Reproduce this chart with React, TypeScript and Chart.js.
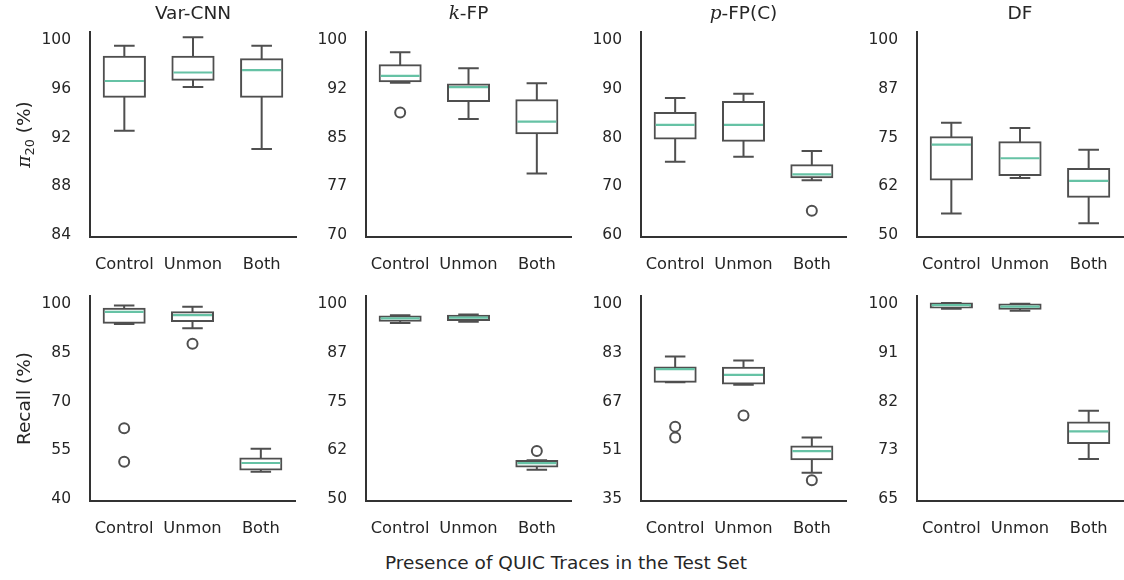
import React, { useEffect, useRef } from "react";
import { Chart, registerables } from "chart.js";

Chart.register(...registerables);

// ---------- data ----------
const categories = ["Control", "Unmon", "Both"];

// each box: [lowWhisker, q1, median, q3, highWhisker]
const varCnnPi20 = [
  [92.3, 95.1, 96.4, 98.4, 99.3],
  [95.9, 96.5, 97.1, 98.4, 100.0],
  [90.8, 95.1, 97.3, 98.2, 99.3],
];
const varCnnPi20Outliers: [number, number][] = [];
const varCnnPi20Ticks = [84, 88, 92, 96, 100];

const kfpPi20 = [
  [93.0, 93.2, 94.05, 95.7, 97.7],
  [87.4, 90.15, 92.3, 92.7, 95.2],
  [79.0, 85.2, 87.0, 90.3, 92.9],
];
const kfpPi20Outliers: [number, number][] = [[0, 88.4]];
const kfpPi20Ticks = [70, 77.5, 85, 92.5, 100];

const pfpPi20 = [
  [74.4, 79.2, 82.0, 84.4, 87.5],
  [75.4, 78.7, 82.0, 86.7, 88.4],
  [70.6, 71.2, 71.8, 73.7, 76.6],
];
const pfpPi20Outliers: [number, number][] = [[2, 64.3]];
const pfpPi20Ticks = [60, 70, 80, 90, 100];

const dfPi20 = [
  [54.7, 63.4, 72.4, 74.3, 78.0],
  [63.8, 64.6, 68.9, 73.0, 76.7],
  [52.2, 59.0, 63.1, 66.1, 71.1],
];
const dfPi20Outliers: [number, number][] = [];
const dfPi20Ticks = [50, 62.5, 75, 87.5, 100];

const varCnnRecall = [
  [93.0, 93.4, 96.75, 97.7, 98.7],
  [91.7, 93.9, 95.7, 96.6, 98.3],
  [47.4, 48.1, 50.1, 51.5, 54.5],
];
const varCnnRecallOutliers: [number, number][] = [[0, 60.85], [0, 50.5], [1, 86.9]];
const varCnnRecallTicks = [40, 55, 70, 85, 100];

const kfpRecall = [
  [94.4, 95.0, 95.6, 96.1, 96.4],
  [94.7, 95.2, 95.8, 96.3, 96.6],
  [56.7, 57.5, 58.4, 58.95, 59.1],
];
const kfpRecallOutliers: [number, number][] = [[2, 61.5]];
const kfpRecallTicks = [50, 62.5, 75, 87.5, 100];

const pfpRecall = [
  [72.9, 73.1, 77.3, 77.9, 81.5],
  [72.1, 72.5, 75.4, 77.75, 80.2],
  [42.7, 47.2, 49.9, 51.5, 54.5],
];
const pfpRecallOutliers: [number, number][] = [[0, 58.1], [0, 54.5], [1, 61.8], [2, 40.2]];
const pfpRecallTicks = [35, 51.25, 67.5, 83.75, 100];

const dfRecall = [
  [98.64, 98.87, 99.29, 99.58, 99.7],
  [98.28, 98.64, 99.05, 99.41, 99.53],
  [71.6, 74.5, 76.6, 78.2, 80.3],
];
const dfRecallOutliers: [number, number][] = [];
const dfRecallTicks = [65, 73.75, 82.5, 91.25, 100];

type Seg = { t: string; italic?: boolean; sub?: boolean };
const titles: Seg[][] = [
  [{ t: "Var-CNN" }],
  [{ t: "k", italic: true }, { t: "-FP" }],
  [{ t: "p", italic: true }, { t: "-FP(C)" }],
  [{ t: "DF" }],
];
const rowLabels: Seg[][] = [
  [{ t: "π", italic: true }, { t: "20", sub: true }, { t: " (%)" }],
  [{ t: "Recall (%)" }],
];
const xLabel = "Presence of QUIC Traces in the Test Set";

// ---------- styles / layout ----------
const EDGE = "#4f4f4f";
const MEDIAN = "#66c2a5";
const SPINE = "#333333";
const TEXT = "#262626";
const FONT = "DejaVu Sans";

const axisX = [90, 366, 641, 917];
const spineTop = [32, 296];
const plotW = 206;
const plotH = 205;
const TOP = 32;
const XH = 40;
const PR = 6;

type Panel = {
  stats: number[][];
  outliers: [number, number][];
  ticks: number[];
  title?: Seg[];
  ylabel?: Seg[];
  row: number;
  col: number;
};

const panels: Panel[] = [
  { stats: varCnnPi20, outliers: varCnnPi20Outliers, ticks: varCnnPi20Ticks, title: titles[0], ylabel: rowLabels[0], row: 0, col: 0 },
  { stats: kfpPi20, outliers: kfpPi20Outliers, ticks: kfpPi20Ticks, title: titles[1], row: 0, col: 1 },
  { stats: pfpPi20, outliers: pfpPi20Outliers, ticks: pfpPi20Ticks, title: titles[2], row: 0, col: 2 },
  { stats: dfPi20, outliers: dfPi20Outliers, ticks: dfPi20Ticks, title: titles[3], row: 0, col: 3 },
  { stats: varCnnRecall, outliers: varCnnRecallOutliers, ticks: varCnnRecallTicks, ylabel: rowLabels[1], row: 1, col: 0 },
  { stats: kfpRecall, outliers: kfpRecallOutliers, ticks: kfpRecallTicks, row: 1, col: 1 },
  { stats: pfpRecall, outliers: pfpRecallOutliers, ticks: pfpRecallTicks, row: 1, col: 2 },
  { stats: dfRecall, outliers: dfRecallOutliers, ticks: dfRecallTicks, row: 1, col: 3 },
];

function drawSegs(ctx: CanvasRenderingContext2D, segs: Seg[], cx: number, cy: number, size: number) {
  const fontFor = (s: Seg) =>
    s.italic ? `italic ${size}px "DejaVu Serif"` : s.sub ? `${size * 0.7}px ${FONT}` : `${size}px ${FONT}`;
  let total = 0;
  const widths = segs.map((s) => {
    ctx.font = fontFor(s);
    const w = ctx.measureText(s.t).width;
    total += w;
    return w;
  });
  let x = cx - total / 2;
  ctx.fillStyle = TEXT;
  ctx.textBaseline = "alphabetic";
  ctx.textAlign = "left";
  segs.forEach((s, i) => {
    ctx.font = fontFor(s);
    ctx.fillText(s.t, x, cy + size * 0.36 + (s.sub ? size * 0.25 : 0));
    x += widths[i];
  });
}

function ChartPanel({ p }: { p: Panel }) {
  const ref = useRef<HTMLCanvasElement | null>(null);
  const YW = p.col === 0 ? 90 : 60;
  const left = axisX[p.col] - YW;
  const top = spineTop[p.row] - TOP;
  const width = YW + plotW + PR;
  const height = TOP + plotH + XH;

  useEffect(() => {
    if (!ref.current) return;
    const lo = p.ticks[0];
    const hi = p.ticks[p.ticks.length - 1];
    const R = hi - lo;

    const boxExtras = {
      id: "boxExtras",
      afterDatasetsDraw(chart: any) {
        const ctx: CanvasRenderingContext2D = chart.ctx;
        const y = chart.scales.y;
        const meta = chart.getDatasetMeta(0);
        ctx.save();
        ctx.lineCap = "butt";
        p.stats.forEach((s, i) => {
          const bar = meta.data[i];
          if (!bar) return;
          const cx = bar.x;
          const w = bar.width;
          const [pLo, pQ1, pMed, pQ3, pHi] = s.map((v) => y.getPixelForValue(v));
          ctx.strokeStyle = EDGE;
          ctx.lineWidth = 2;
          ctx.beginPath();
          ctx.moveTo(cx, pQ3);
          ctx.lineTo(cx, pHi);
          ctx.moveTo(cx - w / 4, pHi);
          ctx.lineTo(cx + w / 4, pHi);
          ctx.moveTo(cx, pQ1);
          ctx.lineTo(cx, pLo);
          ctx.moveTo(cx - w / 4, pLo);
          ctx.lineTo(cx + w / 4, pLo);
          ctx.stroke();
          ctx.strokeStyle = MEDIAN;
          ctx.lineWidth = 2.2;
          ctx.beginPath();
          ctx.moveTo(cx - w / 2 + 1, pMed);
          ctx.lineTo(cx + w / 2 - 1, pMed);
          ctx.stroke();
        });
        ctx.restore();
      },
      afterDraw(chart: any) {
        const ctx: CanvasRenderingContext2D = chart.ctx;
        const a = chart.chartArea;
        ctx.save();
        if (p.title) drawSegs(ctx, p.title, (a.left + a.right) / 2, a.top - 20, 18.5);
        if (p.ylabel) {
          ctx.translate(23, (a.top + a.bottom) / 2);
          ctx.rotate(-Math.PI / 2);
          drawSegs(ctx, p.ylabel, 0, 0, 18.5);
        }
        ctx.restore();
      },
    };

    const chart = new Chart(ref.current, {
      type: "bar",
      data: {
        labels: categories,
        datasets: [
          {
            type: "bar",
            data: p.stats.map((s) => [s[1], s[3]]) as any,
            backgroundColor: "#ffffff",
            borderColor: EDGE,
            borderWidth: 2,
            borderSkipped: false,
            inflateAmount: 1,
            barPercentage: 0.6,
            categoryPercentage: 1,
            order: 2,
          } as any,
          {
            type: "line",
            data: p.outliers.map((o) => ({ x: categories[o[0]], y: o[1] })) as any,
            showLine: false,
            pointRadius: 5,
            pointBorderWidth: 2,
            pointBackgroundColor: "rgba(0,0,0,0)",
            pointBorderColor: EDGE,
            order: 1,
          } as any,
        ],
      },
      options: {
        responsive: false,
        animation: false,
        devicePixelRatio: 1,
        layout: { padding: { top: TOP, right: PR, left: 0, bottom: 0 } },
        plugins: { legend: { display: false }, tooltip: { enabled: false }, title: { display: false } },
        scales: {
          x: {
            type: "category",
            offset: true,
            grid: { display: false, drawTicks: false },
            border: { display: true, color: SPINE, width: 2 },
            ticks: { color: TEXT, font: { family: FONT, size: 16.3 }, padding: 18, maxRotation: 0, autoSkip: false },
            afterFit: (scale: any) => {
              scale.height = XH;
            },
          },
          y: {
            type: "linear",
            min: lo - 0.027 * R,
            max: hi + 0.027 * R,
            grid: { display: false, drawTicks: false },
            border: { display: true, color: SPINE, width: 2 },
            ticks: {
              color: TEXT,
              font: { family: FONT, size: 15.5 },
              padding: 19,
              labelOffset: 3,
              callback: (v: any) => String(Math.floor(Number(v))),
            },
            afterBuildTicks: (scale: any) => {
              scale.ticks = p.ticks.map((v) => ({ value: v }));
            },
            afterFit: (scale: any) => {
              scale.width = YW;
            },
          },
        },
      } as any,
      plugins: [boxExtras],
    });
    return () => chart.destroy();
  }, []);

  return (
    <canvas
      ref={ref}
      width={width}
      height={height}
      style={{ position: "absolute", left, top, width, height }}
    />
  );
}

export default function App() {
  return (
    <div
      style={{
        position: "absolute",
        left: 0,
        top: 0,
        width: 1124,
        height: 580,
        overflow: "hidden",
        background: "#ffffff",
      }}
    >
      {panels.map((p, i) => (
        <ChartPanel key={i} p={p} />
      ))}
      <div
        style={{
          position: "absolute",
          left: 266,
          width: 600,
          top: 552,
          textAlign: "center",
          fontFamily: FONT,
          fontSize: 18.5,
          lineHeight: "22px",
          color: TEXT,
        }}
      >
        {xLabel}
      </div>
    </div>
  );
}
